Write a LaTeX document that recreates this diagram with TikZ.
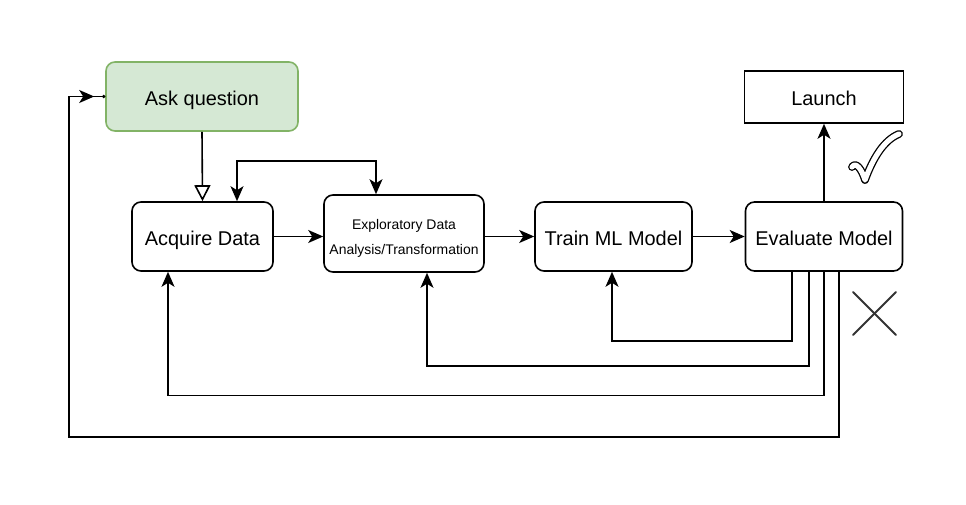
\documentclass[tikz,border=0pt]{standalone}
\usepackage{fontspec}
\setmainfont{Liberation Sans}
\usetikzlibrary{arrows.meta,decorations.markings}
\definecolor{askfill}{HTML}{D5E8D4}
\definecolor{askdraw}{HTML}{82B366}
\definecolor{xgray}{HTML}{333333}
\begin{document}
\begin{tikzpicture}[x=1bp,y=-1bp,
  box/.style={draw=black, line width=1.6bp, rounded corners=9bp, align=center, inner sep=0pt, text height=18.4bp, text depth=0pt, font=\fontsize{20}{24}\selectfont},
  conn/.style={line width=1.6bp},
  tip/.style={-{Stealth[length=15bp,width=13bp,inset=4bp]}},
  both/.style={{Stealth[length=15bp,width=13bp,inset=4bp]}-{Stealth[length=15bp,width=13bp,inset=4bp]}},
  hollow/.style={-{Triangle[open,length=16bp,width=16bp]}}
]
\useasboundingbox (0,0) rectangle (966,505);
\node[box, fill=askfill, draw=askdraw, minimum width=192bp, minimum height=69bp] (ask) at (202,96.5) {Ask question};
\node[box, minimum width=141bp, minimum height=69bp] (acq) at (202.5,236.5) {Acquire Data};
\node[box, minimum width=160bp, minimum height=77bp, text height=0pt] (eda) at (404,233.5) {};
\node[align=center, inner sep=0pt, font=\fontsize{14}{25}\selectfont] (edatext) at (404,238) {Exploratory Data\\Analysis/Transformation};
\node[box, minimum width=157bp, minimum height=69bp] (train) at (613.5,236.5) {Train ML Model};
\node[box, minimum width=157bp, minimum height=69bp] (eval) at (824,236.5) {Evaluate Model};
\node[box, sharp corners, minimum width=159bp, minimum height=52bp, text height=17.4bp] (launch) at (824,97) {Launch};

\draw[conn, hollow] (ask.south) -- (acq.north);
\draw[conn, both] ([xshift=34.5bp]acq.north) -- ++(0,-40) -| ([xshift=-28bp]eda.north);
\draw[conn, tip] (acq.east) -- (acq.east -| eda.west);
\draw[conn, tip] (eda.east |- train.west) -- (train.west);
\draw[conn, tip] (train.east) -- (eval.west);
\draw[conn, tip] (eval.north) -- (launch.south);

\draw[conn, tip] ([xshift=-32bp]eval.south) -- ++(0,69) -| ([xshift=-1.5bp]train.south);
\draw[conn, tip] ([xshift=-15bp]eval.south) -- ++(0,94) -| ([xshift=23bp]eda.south);
\draw[conn, tip] (eval.south) -- ++(0,123.5) -| ([xshift=-34.5bp]acq.south);
\coordinate (lc) at (69,96.5);
\draw[conn, -{Circle[length=3bp]}, postaction=decorate,
  decoration={markings, mark=at position -11bp with {\arrow{Stealth[length=15bp,width=13bp,inset=4bp]}}}]
  ([xshift=15bp]eval.south) -- ++(0,165) -| (lc) -- (ask.west);

% check mark
\draw[line width=1.3bp, double=white, double distance=5.2bp, line cap=round, line join=round]
  (852,167) .. controls (856,161) and (862,170) .. (865,180)
  .. controls (873,158) and (884,140) .. (899,134);
% cross
\draw[xgray, line width=2bp, line cap=round] (853,292) -- (896,335);
\draw[xgray, line width=2bp, line cap=round] (896,292) -- (853,335);
\end{tikzpicture}
\end{document}
